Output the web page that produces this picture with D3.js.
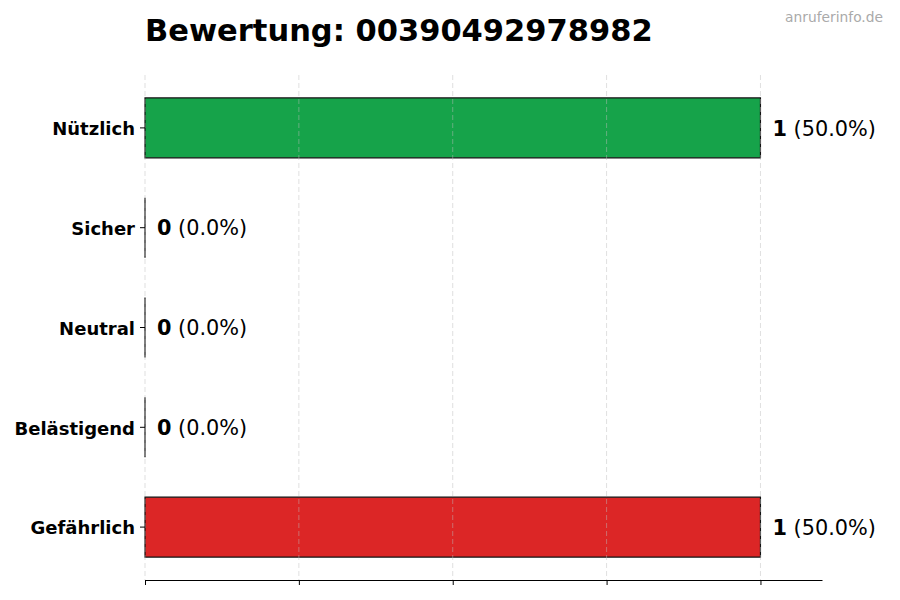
<!DOCTYPE html>
<html>
<head>
<meta charset="utf-8">
<script src="https://cdn.jsdelivr.net/npm/d3@7"></script>
<style>
  body { margin: 0; background: #fff; }
  svg { font-family: "DejaVu Sans", sans-serif; }
</style>
</head>
<body>
<script>
// chart data
var categories = ["Nützlich", "Sicher", "Neutral", "Belästigend", "Gefährlich"];
var counts = [1, 0, 0, 0, 1];
var barColors = ["#16a34a", "#9ca3af", "#6b7280", "#f59e0b", "#dc2626"];
var xTicks = [0, 0.25, 0.5, 0.75, 1.0];
var title = "Bewertung: 00390492978982";
var watermark = "anruferinfo.de";

var width = 900, height = 600;
var margin = {top: 75, right: 78, bottom: 20, left: 145};
var total = d3.sum(counts);

var svg = d3.select("body").append("svg")
    .attr("width", width)
    .attr("height", height);

// x scale: 0 .. 1.1 like matplotlib's padding
var x = d3.scaleLinear()
    .domain([0, d3.max(counts) * 1.1])
    .range([margin.left, width - margin.right]);

// y: category index, bar height 0.6 of a unit, 0.05 margins
var y = d3.scaleLinear()
    .domain([-0.53, categories.length - 1 + 0.53])
    .range([margin.top, height - margin.bottom]);
var unit = y(1) - y(0);

// bars (as paths so zero-width bars still show their edge)
svg.append("g").selectAll("path")
    .data(counts)
    .enter().append("path")
    .attr("d", function(d, i) {
      var x0 = x(0), y0 = y(i) - unit * 0.3, w = x(d) - x(0), h = unit * 0.6;
      return "M" + x0 + "," + y0 + "h" + w + "v" + h + "h" + (-w) + "Z";
    })
    .attr("fill", function(d, i) { return barColors[i]; })
    .attr("stroke", "#111")
    .attr("stroke-width", 1.2);

// grid lines (drawn over the bars)
svg.append("g").selectAll("line")
    .data(xTicks)
    .enter().append("line")
    .attr("x1", function(d) { return x(d); })
    .attr("x2", function(d) { return x(d); })
    .attr("y1", margin.top)
    .attr("y2", height - margin.bottom)
    .attr("stroke", "#bbb")
    .attr("stroke-opacity", 0.6)
    .attr("stroke-dasharray", "5,3")
    .attr("stroke-width", 0.8);

// x axis without labels
var xAxis = svg.append("g")
    .attr("transform", "translate(0," + (height - margin.bottom) + ")")
    .call(d3.axisBottom(x).tickValues(xTicks).tickFormat("").tickSize(5).tickSizeOuter(0));
xAxis.select(".domain").attr("stroke", "#000").attr("stroke-width", 1);
xAxis.selectAll(".tick line").attr("stroke", "#000");

// y tick marks and labels
var yTick = svg.append("g").selectAll("g")
    .data(categories)
    .enter().append("g")
    .attr("transform", function(d, i) { return "translate(" + margin.left + "," + y(i) + ")"; });
yTick.append("line")
    .attr("x1", -5).attr("x2", 0)
    .attr("stroke", "#000");
yTick.append("text")
    .attr("x", -10)
    .attr("y", 1)
    .attr("dy", "0.35em")
    .attr("text-anchor", "end")
    .style("font-size", "18px")
    .style("font-weight", "bold")
    .text(function(d) { return d; });

// value labels
var vl = svg.append("g").selectAll("text")
    .data(counts)
    .enter().append("text")
    .attr("x", function(d) { return x(d) + 12; })
    .attr("y", function(d, i) { return y(i) + 0.5; })
    .attr("dy", "0.35em")
    .style("font-size", "20.8px");
vl.append("tspan").style("font-weight", "bold").text(function(d) { return d; });
vl.append("tspan").text(function(d) {
  return " (" + (total ? d / total * 100 : 0).toFixed(1) + "%)";
});

// title
svg.append("text")
    .attr("x", margin.left)
    .attr("y", 41)
    .style("font-size", "30.5px")
    .style("font-weight", "bold")
    .text(title);

// watermark
svg.append("text")
    .attr("x", 883)
    .attr("y", 22)
    .attr("text-anchor", "end")
    .style("font-size", "13.8px")
    .attr("fill", "#aaa")
    .text(watermark);
</script>
</body>
</html>
